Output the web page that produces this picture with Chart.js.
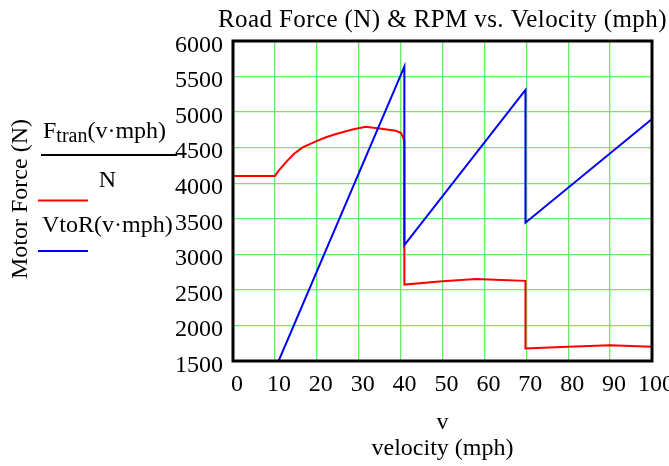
<!DOCTYPE html>
<html>
<head>
<meta charset="utf-8">
<script src="https://cdn.jsdelivr.net/npm/chart.js@4.4.0/dist/chart.umd.min.js"></script>
<style>
  html, body { margin: 0; padding: 0; background: #fff; }
  #wrap { width: 669px; height: 466px; }
</style>
</head>
<body>
<div id="wrap"><canvas id="c" width="669" height="466"></canvas></div>
<script>
// values
const forceVel = [0, 10, 10.8, 12, 12.6, 14.5, 16.6, 19.8, 22, 24.6, 28.5, 31.7, 34.9, 38.9, 40.1, 40.6, 40.9, 40.9, 50, 58, 64, 69.8, 69.8, 80, 90, 100];
const forceN   = [4100, 4100, 4170, 4250, 4294, 4410, 4504, 4588, 4643, 4692, 4756, 4794, 4770, 4738, 4705, 4645, 4590, 2575, 2620, 2654, 2640, 2627, 1677, 1702, 1720, 1700];
const rpmVel = [0, 40.9, 40.9, 69.8, 69.8, 100];
const rpmVal = [0, 5640, 3130, 5313, 3444, 4902];
const xTicks = [0, 10, 20, 30, 40, 50, 60, 70, 80, 90, 100];
const yTicks = [1500, 2000, 2500, 3000, 3500, 4000, 4500, 5000, 5500, 6000];

const titleText = 'Road Force (N) & RPM vs. Velocity (mph)';
const xTitle1 = 'v';
const xTitle2 = 'velocity (mph)';
const yTitle = 'Motor Force (N)';
const legF = 'F', legSub = 'tran', legArg = '(v\u00b7mph)', legDen = 'N';
const legRpm = 'VtoR(v\u00b7mph)';

const SERIF = '"Liberation Serif", "Times New Roman", serif';
Chart.defaults.font.family = SERIF;
Chart.defaults.font.size = 24;
Chart.defaults.color = '#000';

const toXY = (xs, ys) => xs.map((x, i) => ({ x, y: ys[i] }));

// all the Mathcad-ish text plus the frame box
const decor = {
  id: 'decor',
  afterDraw(chart) {
    const { ctx, chartArea: a } = chart;
    ctx.save();
    ctx.strokeStyle = '#000';
    ctx.lineWidth = 3;
    ctx.strokeRect(a.left, a.top, a.right - a.left, a.bottom - a.top);

    ctx.fillStyle = '#000';
    ctx.textBaseline = 'alphabetic';
    ctx.textAlign = 'left';
    ctx.font = '25px ' + SERIF;
    ctx.letterSpacing = '0.4px';
    ctx.fillText(titleText, 218, 27);
    ctx.letterSpacing = '0px';
    ctx.font = '24px ' + SERIF;

    // x axis titles
    ctx.textAlign = 'center';
    const cx = (a.left + a.right) / 2;
    ctx.fillText(xTitle1, cx, 429);
    ctx.fillText(xTitle2, cx, 455);

    // y axis title
    ctx.save();
    ctx.translate(27, 199);
    ctx.rotate(-Math.PI / 2);
    ctx.fillText(yTitle, 0, 0);
    ctx.restore();

    // legend: fraction
    ctx.textAlign = 'left';
    let x = 43;
    ctx.fillText(legF, x, 138);
    x += ctx.measureText(legF).width;
    ctx.font = '20px ' + SERIF;
    ctx.fillText(legSub, x, 142);
    x += ctx.measureText(legSub).width;
    ctx.font = '24px ' + SERIF;
    ctx.fillText(legArg, x, 138);
    ctx.textAlign = 'center';
    ctx.fillText(legDen, 107.5, 187);
    ctx.textAlign = 'left';
    ctx.fillText(legRpm, 42, 232);

    ctx.lineWidth = 2;
    ctx.beginPath(); ctx.moveTo(41, 155); ctx.lineTo(177, 155); ctx.stroke();
    ctx.strokeStyle = '#ff0000';
    ctx.beginPath(); ctx.moveTo(38, 200.5); ctx.lineTo(88, 200.5); ctx.stroke();
    ctx.strokeStyle = '#0000ff';
    ctx.beginPath(); ctx.moveTo(38, 251); ctx.lineTo(88, 251); ctx.stroke();
    ctx.restore();
  }
};

new Chart(document.getElementById('c'), {
  type: 'scatter',
  data: {
    datasets: [
      { label: legRpm, data: toXY(rpmVel, rpmVal), showLine: true, borderColor: '#0000ff', borderWidth: 2, pointRadius: 0, tension: 0 },
      { label: legF + legSub, data: toXY(forceVel, forceN), showLine: true, borderColor: '#ff0000', borderWidth: 2, pointRadius: 0, tension: 0 }
    ]
  },
  options: {
    responsive: false,
    animation: false,
    layout: { padding: { top: 41, right: 17, left: 0, bottom: 0 } },
    plugins: { legend: { display: false }, title: { display: false }, tooltip: { enabled: false } },
    scales: {
      x: {
        type: 'linear', min: 0, max: 100,
        afterBuildTicks: s => { s.ticks = xTicks.map(v => ({ value: v })); },
        afterFit: s => { s.height = 105; s.paddingLeft = 0; s.paddingRight = 0; },
        grid: { color: '#66ee66', lineWidth: 1.3, drawTicks: false },
        border: { display: false },
        ticks: { padding: 9, labelOffset: 4, maxRotation: 0, autoSkip: false, color: '#000', callback: v => String(v) }
      },
      y: {
        type: 'linear', min: 1500, max: 6000,
        afterBuildTicks: s => { s.ticks = yTicks.map(v => ({ value: v })); },
        afterFit: s => { s.width = 233; s.paddingTop = 0; s.paddingBottom = 0; },
        grid: { color: '#66ee66', lineWidth: 1.3, drawTicks: false },
        border: { display: false },
        ticks: { padding: 10, labelOffset: 4.5, autoSkip: false, color: '#000', callback: v => String(v) }
      }
    }
  },
  plugins: [decor]
});
</script>
</body>
</html>
